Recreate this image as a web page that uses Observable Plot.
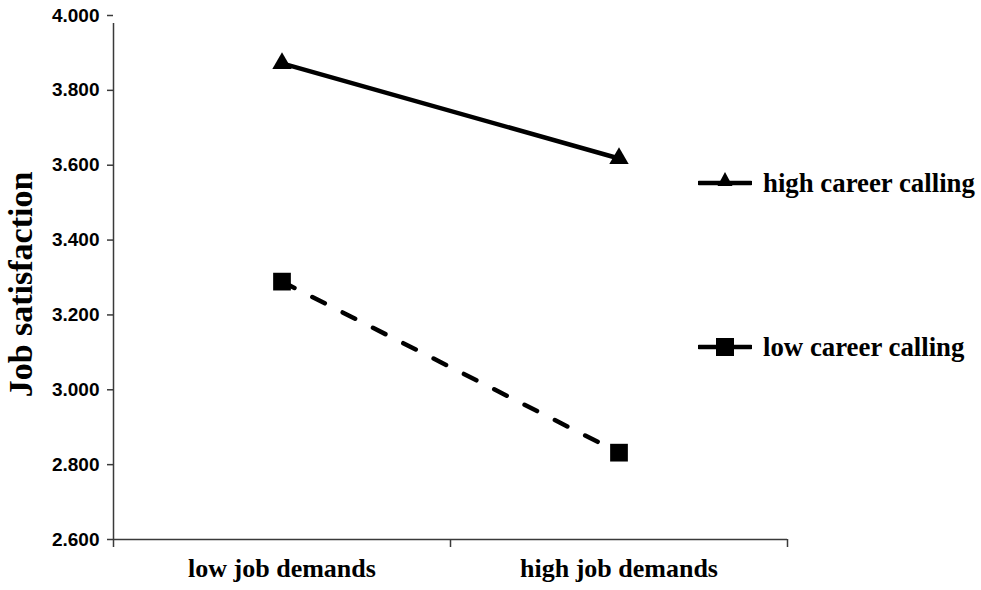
<!DOCTYPE html>
<html>
<head>
<meta charset="utf-8">
<script src="https://cdn.jsdelivr.net/npm/d3@7"></script>
<script src="https://cdn.jsdelivr.net/npm/@observablehq/plot@0.6"></script>
<style>
  html, body { margin: 0; padding: 0; background: #fff; }
  #wrap { position: relative; width: 981px; height: 590px; }
  .leg { position: absolute; left: 698px; display: flex; align-items: center; height: 30px;
         font-family: "Liberation Serif", "Times New Roman", serif; font-weight: bold; font-size: 26.8px; color: #000; }
  .leg svg { display: block; margin-right: 11px; }
</style>
</head>
<body>
<div id="wrap"></div>
<script>
// ---- data ----
const categories = ["low job demands", "high job demands"];
const seriesNames = ["high career calling", "low career calling"];
const highCalling = [3.872, 3.618];
const lowCalling = [3.289, 2.832];
const yTicks = [2.6, 2.8, 3.0, 3.2, 3.4, 3.6, 3.8, 4.0];

const highData = categories.map((c, i) => ({cat: c, pos: i + 0.5, value: highCalling[i]}));
const lowData = categories.map((c, i) => ({cat: c, pos: i + 0.5, value: lowCalling[i]}));

const axisColor = "#3a3a3a";
const serif = "Liberation Serif, Times New Roman, serif";
const sans = "Liberation Sans, Arial, sans-serif";

const chart = Plot.plot({
  width: 981,
  height: 590,
  marginLeft: 113,
  marginRight: 194,
  marginTop: 15,
  marginBottom: 51,
  style: {background: "#fff", overflow: "visible"},
  x: {domain: [0, categories.length], axis: null},
  y: {domain: [yTicks[0], yTicks[yTicks.length - 1]], axis: null},
  marks: [
    // y axis ticks + labels
    Plot.axisY({
      ticks: yTicks,
      tickSize: 6,
      tickPadding: 8,
      tickFormat: d3.format(".3f"),
      fontSize: 19,
      fontWeight: "bold",
      fontFamily: sans,
      stroke: axisColor,
      strokeWidth: 1.5,
      fill: "#000",
      label: null
    }),
    // x axis boundary ticks
    Plot.axisX({
      ticks: d3.range(categories.length + 1),
      tickSize: 8,
      tickFormat: () => "",
      stroke: axisColor,
      strokeWidth: 1.5,
      label: null
    }),
    // x category labels
    Plot.axisX({
      ticks: categories.map((c, i) => i + 0.5),
      tickSize: 0,
      tickPadding: 19,
      tickFormat: d => categories[Math.floor(d)],
      fontSize: 26,
      fontWeight: "bold",
      fontFamily: serif,
      fill: "#000",
      label: null
    }),
    // axis lines
    Plot.ruleX([0], {y1: yTicks[0], y2: yTicks[yTicks.length - 1], stroke: axisColor, strokeWidth: 1.5, insetBottom: -8}),
    Plot.ruleY([yTicks[0]], {x1: 0, x2: categories.length, stroke: axisColor, strokeWidth: 1.5}),
    // y axis title
    Plot.text(["Job satisfaction"], {
      frameAnchor: "left", textAnchor: "middle", rotate: -90, dx: -92, dy: 7,
      fontSize: 34, fontWeight: "bold", fontFamily: serif, fill: "#000"
    }),
    // series lines
    Plot.line(highData, {x: "pos", y: "value", stroke: "#000", strokeWidth: 4.5}),
    Plot.line(lowData, {x: "pos", y: "value", stroke: "#000", strokeWidth: 4.5, strokeDasharray: "14,20", strokeLinecap: "round"}),
    Plot.dot(highData, {x: "pos", y: "value", symbol: "triangle", r: 7.2, fill: "#000", stroke: "none"}),
    Plot.dot(lowData, {x: "pos", y: "value", symbol: "square", r: 10, fill: "#000", stroke: "none"})
  ]
});

const wrap = document.getElementById("wrap");
wrap.appendChild(chart);

// legend
const legendItems = [
  {name: seriesNames[0], top: 168, sym: `<path d="M27,4 L34.5,18 L19.5,18 Z" fill="#000"/>`},
  {name: seriesNames[1], top: 332, sym: `<rect x="18" y="6" width="18" height="18" fill="#000"/>`}
];
for (const it of legendItems) {
  const div = document.createElement("div");
  div.className = "leg";
  div.style.top = it.top + "px";
  div.innerHTML = `<svg width="54" height="30" viewBox="0 0 54 30"><line x1="1" y1="15" x2="53" y2="15" stroke="#000" stroke-width="4.5" stroke-linecap="round"/>${it.sym}</svg><span>${it.name}</span>`;
  wrap.appendChild(div);
}
</script>
</body>
</html>
